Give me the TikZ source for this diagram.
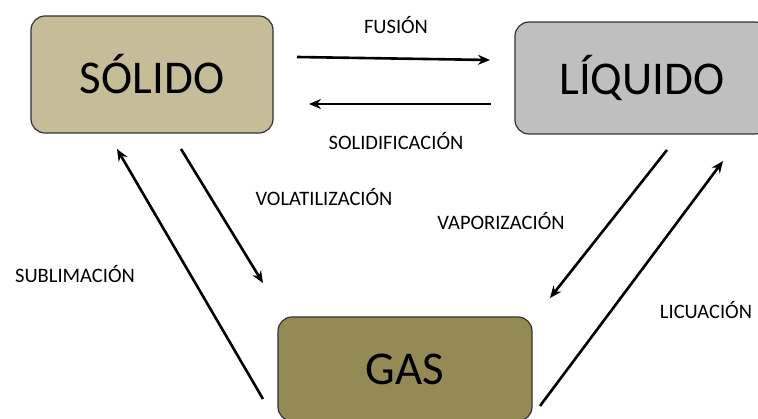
\documentclass[tikz,border=0pt]{standalone}
\usepackage{fontspec}
\setmainfont{Carlito}
\usetikzlibrary{arrows.meta}

\definecolor{solidocolor}{HTML}{C4BD97}
\definecolor{liquidocolor}{HTML}{BFBFBF}
\definecolor{gascolor}{HTML}{948A54}

\begin{document}
\begin{tikzpicture}[
    x=1pt, y=-1pt,
    >={Stealth[length=12pt, width=10pt]},
    estado/.style={draw=black!80, line width=1.2pt, rounded corners=14pt, font=\fontsize{47}{50}\selectfont, inner sep=0pt},
    etiqueta/.style={font=\fontsize{20.5}{24}\selectfont},
    every edge/.append style={line width=2.6pt}
]
   \useasboundingbox (0,0) rectangle (758,419);

   % States
   \node[estado, fill=solidocolor, minimum width=242pt, minimum height=117pt] (solido) at (152,74.5) {SÓLIDO};
   \node[estado, fill=liquidocolor, minimum width=254pt, minimum height=112pt] (liquido) at (642,78) {LÍQUIDO};
   \node[estado, fill=gascolor, minimum width=254pt, minimum height=104pt] (gas) at (405,369) {GAS};

   % Ends of the arrows
   \coordinate (fus1) at (297,57);
   \coordinate (fus2) at (490,60);
   \coordinate (sol1) at (491,104);
   \coordinate (sol2) at (309,104);
   \coordinate (vol1) at (181,149);
   \coordinate (vol2) at (263,283);
   \coordinate (sub1) at (263,399);
   \coordinate (sub2) at (117,149);
   \coordinate (vap1) at (667,150);
   \coordinate (vap2) at (550,298);
   \coordinate (lic1) at (540,406);
   \coordinate (lic2) at (723,161);

   % Transitions
   \path[->, line width=2.6pt]
   (fus1) edge (fus2)
   (sol1) edge (sol2)
   (vol1) edge (vol2)
   (sub1) edge (sub2)
   (vap1) edge (vap2)
   (lic1) edge (lic2);

   % Labels
   \node[etiqueta] (fusion) at (396,25) {FUSIÓN};
   \node[etiqueta] (solidificacion) at (396,141) {SOLIDIFICACIÓN};
   \node[etiqueta] (volatilizacion) at (324,197) {VOLATILIZACIÓN};
   \node[etiqueta] (sublimacion) at (75,274) {SUBLIMACIÓN};
   \node[etiqueta] (vaporizacion) at (501,221) {VAPORIZACIÓN};
   \node[etiqueta] (licuacion) at (706,310) {LICUACIÓN};
\end{tikzpicture}
\end{document}
